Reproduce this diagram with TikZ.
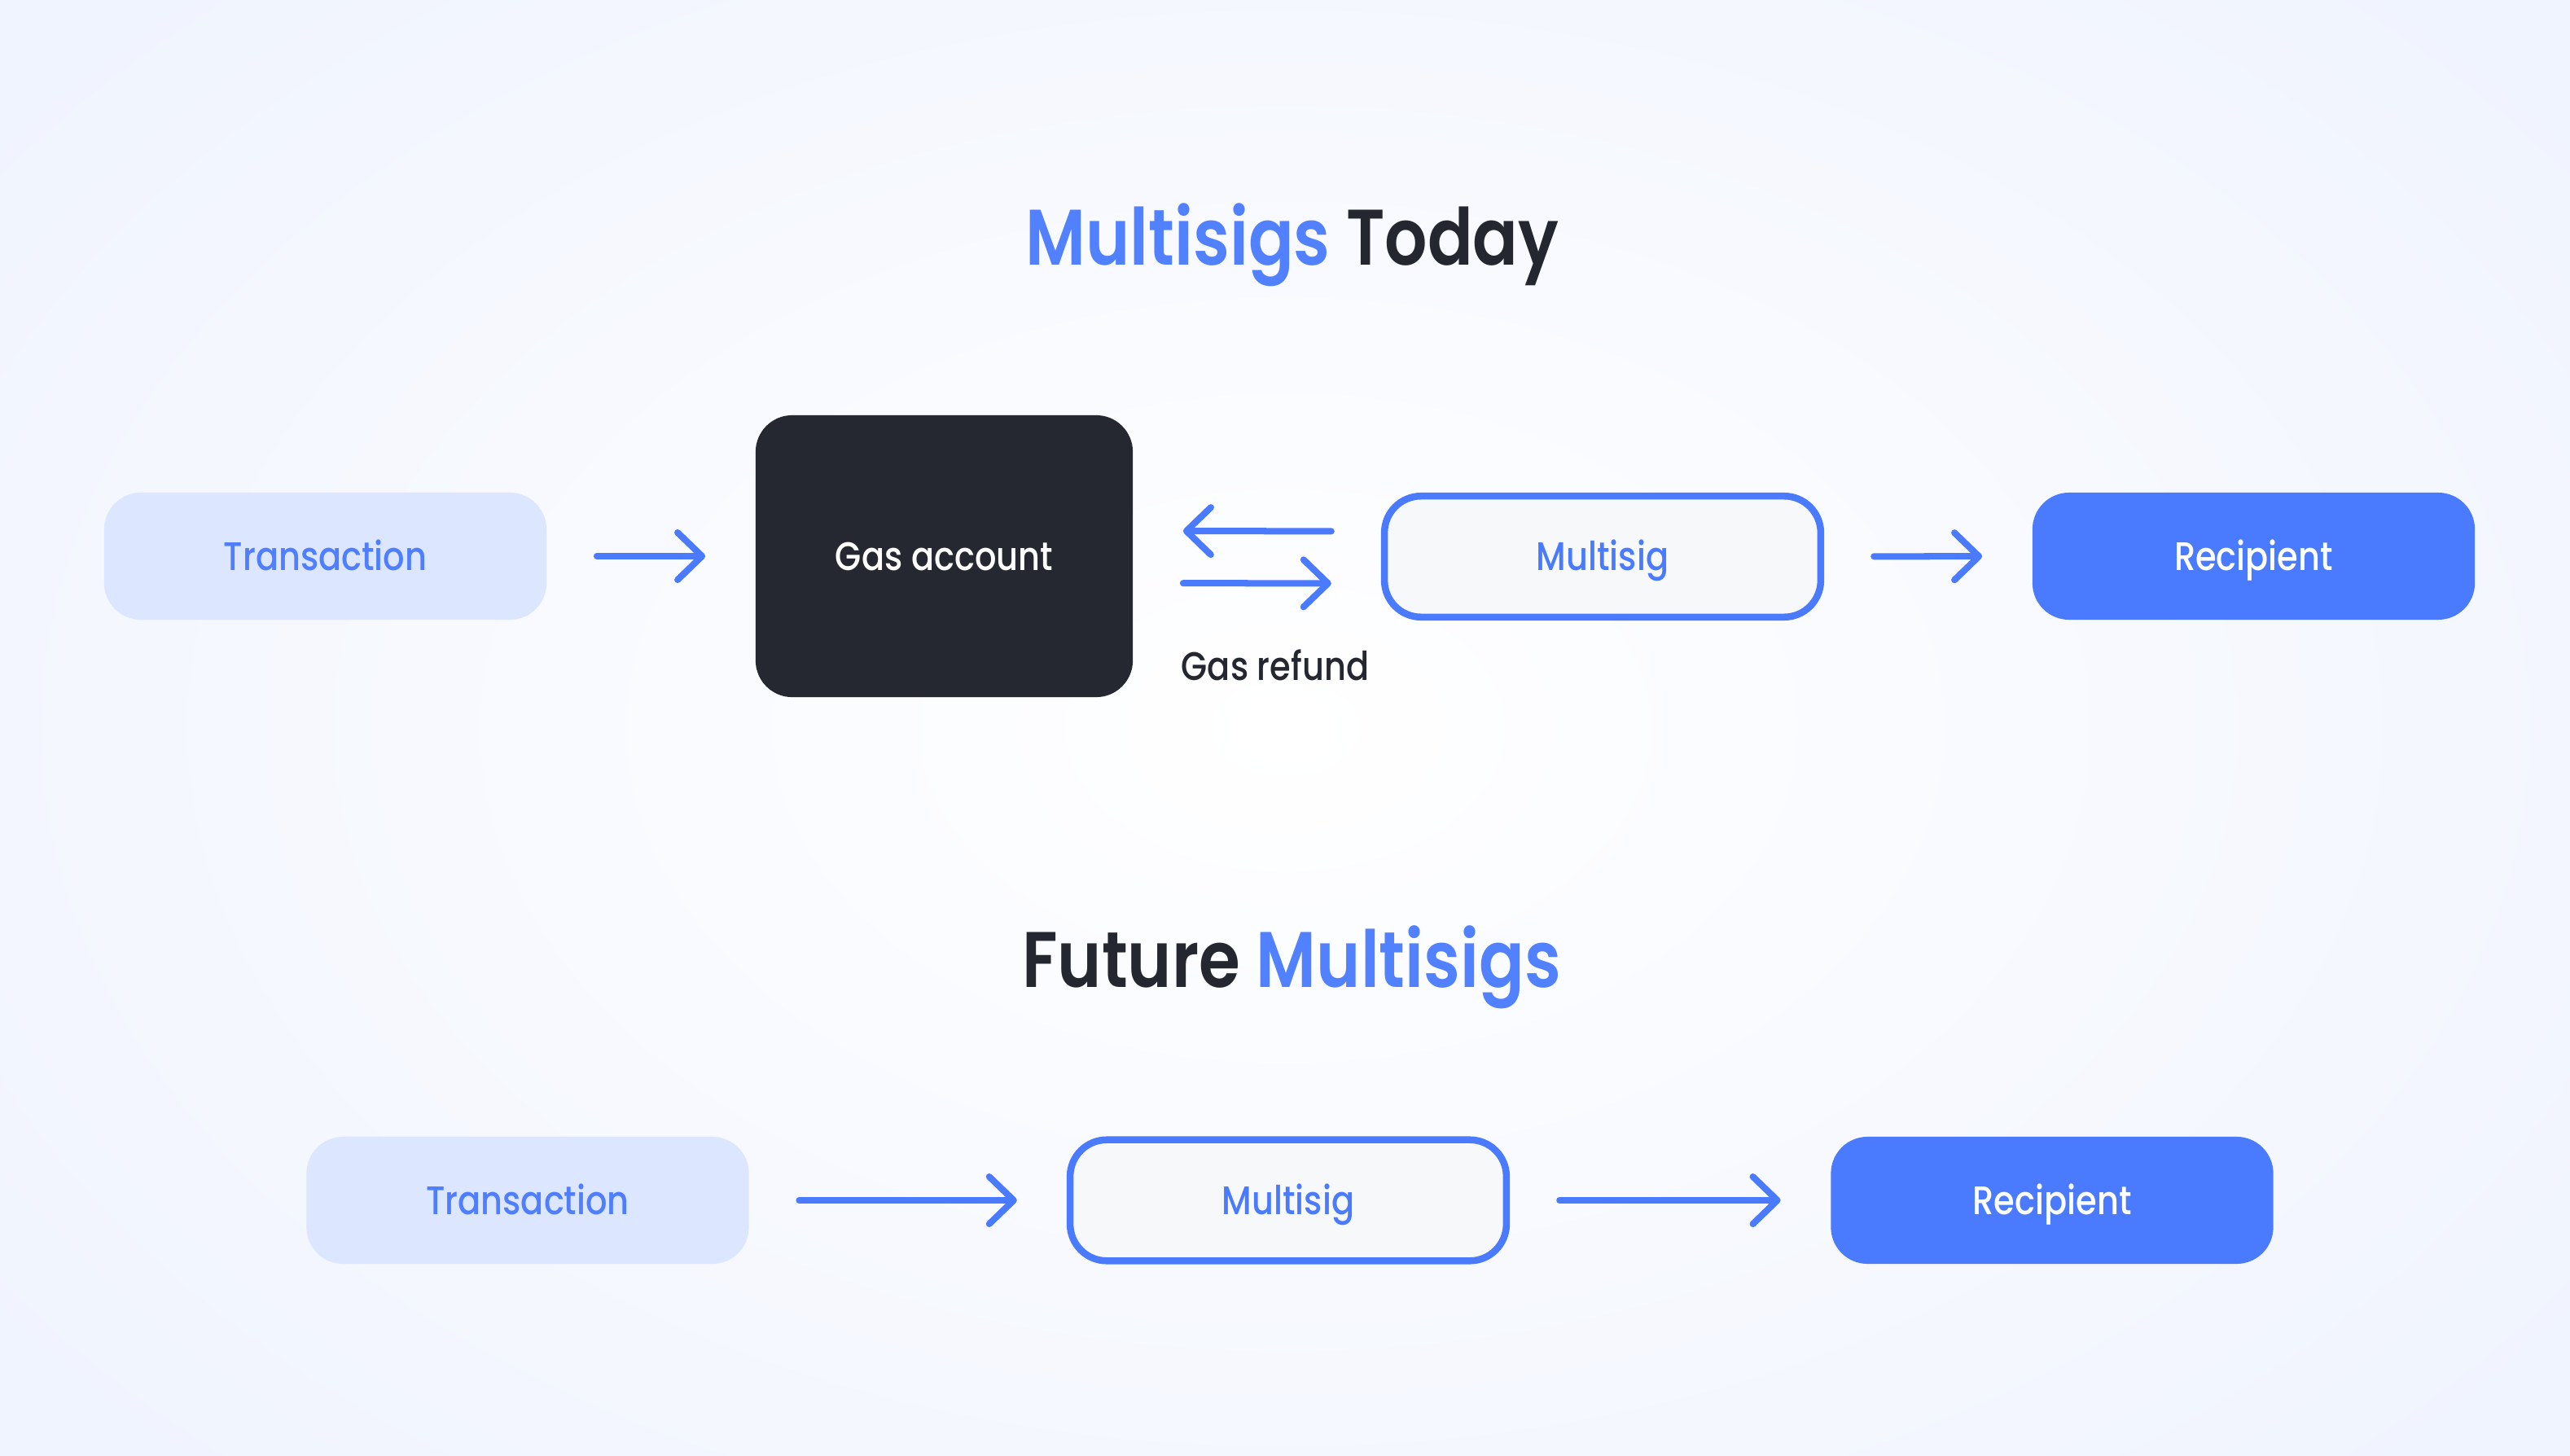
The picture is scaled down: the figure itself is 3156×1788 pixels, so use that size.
\documentclass[tikz,border=0pt]{standalone}
\usepackage{fontspec}
\setmainfont{Poppins}
\newfontfamily\labelfont{Poppins Medium}[FakeStretch=0.85]
\newfontfamily\titlefont{Poppins SemiBold}[FakeStretch=0.85]
\usetikzlibrary{arrows.meta}
\definecolor{brandblue}{HTML}{4A7BFF}
\definecolor{titleblue}{HTML}{5281FF}
\definecolor{txtext}{HTML}{4F7FFF}
\definecolor{txfill}{HTML}{DCE6FE}
\definecolor{msfill}{HTML}{F7F8FA}
\definecolor{darkbox}{HTML}{252830}
\definecolor{darktext}{HTML}{24272F}
\definecolor{bgout}{HTML}{F0F4FE}
\tikzset{
  boxbase/.style={rounded corners=0.45cm, minimum width=5.43cm, minimum height=1.56cm,
    inner sep=0pt, text height=0.34cm, text depth=0pt,
    font=\labelfont\fontsize{13.9}{16}\selectfont},
  txbox/.style={boxbase, fill=txfill, text=txtext},
  msbox/.style={boxbase, draw=brandblue, line width=0.085cm, fill=msfill,
    minimum width=5.355cm, minimum height=1.485cm, text=brandblue},
  rcbox/.style={boxbase, fill=brandblue, text=white},
  gasbox/.style={boxbase, fill=darkbox, text=white, minimum width=4.63cm, minimum height=3.46cm},
  flowarrow/.style={draw=brandblue, line width=0.08cm, line cap=round,
    -{Straight Barb[length=0.3cm, width=0.58cm, round]},
    shorten >=0.61cm, shorten <=0.61cm},
  titletext/.style={inner sep=0pt, anchor=base, text=darktext,
    font=\titlefont\fontsize{27.5}{32}\selectfont},
  notetext/.style={inner sep=0pt, anchor=base west, text=darktext,
    font=\labelfont\fontsize{13.9}{16}\selectfont}
}
\begin{document}
\begin{tikzpicture}[x=0.01cm, y=-0.01cm]
\useasboundingbox (0,0) rectangle (3156,1788);
\shade[inner color=white, outer color=bgout] (-400,-400) rectangle (3556,2188);

\node[titletext] (t1) at (1587,326) {\textcolor{titleblue}{Multisigs} Today};
\node[titletext] (t2) at (1586,1212) {Future \textcolor{titleblue}{Multisigs}};

\node[txbox] (tx1) at (399.5,683) {Transaction};
\node[gasbox] (gas) at (1159.5,683) {Gas account};
\node[msbox] (ms1) at (1968,683.5) {Multisig};
\node[rcbox] (rc1) at (2767.5,683) {Recipient};

\node[notetext] (gr) at (1450,835) {Gas refund};

\node[txbox] (tx2) at (648,1474) {Transaction};
\node[msbox] (ms2) at (1582,1474) {Multisig};
\node[rcbox] (rc2) at (2520,1474) {Recipient};

\draw[flowarrow] (tx1) -- (gas);
\draw[flowarrow] ([yshift=0.31cm]ms1.west) -- ([yshift=0.31cm]gas.east);
\draw[flowarrow] ([yshift=-0.33cm]gas.east) -- ([yshift=-0.33cm]ms1.west);
\draw[flowarrow] (ms1) -- (rc1);

\draw[flowarrow] (tx2) -- (ms2);
\draw[flowarrow] (ms2) -- (rc2);
\end{tikzpicture}
\end{document}
